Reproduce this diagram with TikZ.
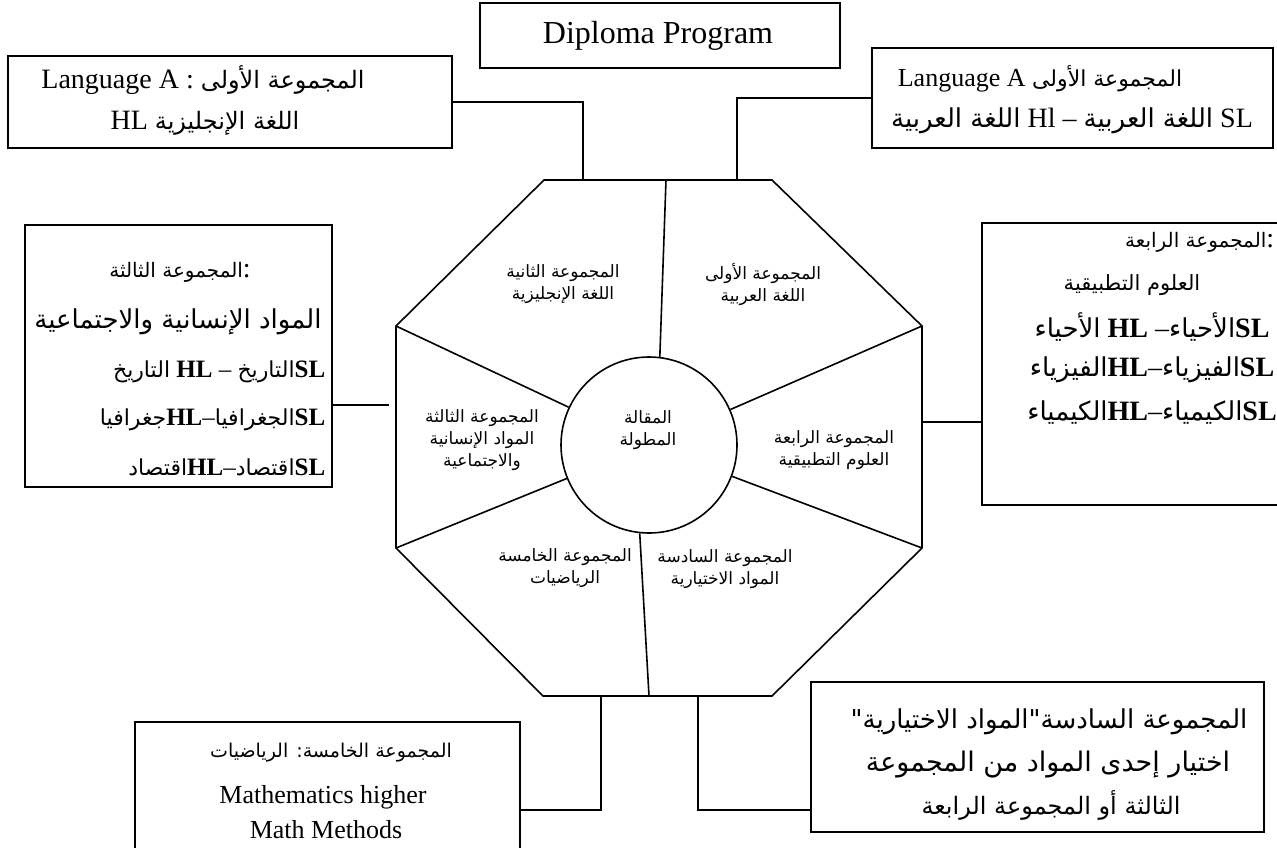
\documentclass[tikz,border=0pt]{standalone}
\usepackage{fontspec}
\setmainfont{Liberation Serif}
\newfontfamily\arfont[Script=Arabic]{DejaVu Sans}
\TeXXeTstate=1
\newcommand\az[1]{\fontsize{#1}{#1}\selectfont\arfont}
\begin{document}
\begin{tikzpicture}[x=1pt,y=-1pt,line width=1.6pt,
  box/.style={draw,rectangle,inner sep=0pt},
  txt/.style={inner sep=0pt,font=\fontsize{28}{30}\selectfont},
  otxt/.style={inner sep=0pt,align=center,font=\fontsize{17}{22}\selectfont\arfont}]
\useasboundingbox (0,0) rectangle (1277,847);
\begin{scope}
\clip (0,0) rectangle (1277,847);
% boxes
\node[box,minimum width=360,minimum height=65] (dp) at (660,35.5) {};
\node[box,minimum width=444,minimum height=92] (tl) at (230,102) {};
\node[box,minimum width=401,minimum height=100] (tr) at (1072.5,98) {};
\node[box,minimum width=307,minimum height=262] (lb) at (178.5,356) {};
\node[box,minimum width=340,minimum height=282] (rb) at (1152,364) {};
\node[box,minimum width=385,minimum height=176] (bl) at (327.5,810) {};
\node[box,minimum width=453,minimum height=150] (br) at (1037.5,757) {};
% octagon
\coordinate (o1) at (544,180);
\coordinate (o2) at (772,180);
\coordinate (o3) at (922,326);
\coordinate (o4) at (922,548);
\coordinate (o5) at (772,696);
\coordinate (o6) at (543,696);
\coordinate (o7) at (396,548);
\coordinate (o8) at (396,326);
\draw (o1) -- (o2) -- (o3) -- (o4) -- (o5) -- (o6) -- (o7) -- (o8) -- cycle;
\node[draw,circle,minimum size=176,inner sep=0pt] (c) at (649,445) {};
\coordinate (ts) at (666,180);
\coordinate (bs) at (649,696);
\draw (ts) -- (c.83);
\draw (bs) -- (c.264);
\draw (o8) -- (c);
\draw (o3) -- (c);
\draw (o7) -- (c);
\draw (o4) -- (c);
% connectors
\coordinate (tlc) at (583,180);
\coordinate (trc) at (737,180);
\draw (tl.east) -| (tlc);
\draw (tr.west) -| (trc);
\coordinate (lg) at (389,405);
\draw (lb.east |- lg) -- (lg);
\coordinate (rg) at (922,422);
\draw (rg) -- (rg -| rb.west);
\coordinate (blc) at (601,696);
\draw (bl.east) -| (blc);
\coordinate (brc) at (698,696);
\coordinate (brk) at (698,810);
\draw (brc) -- (brk) -- (brk -| br.west);
% texts
\node[inner sep=0pt,font=\fontsize{32}{34}\selectfont] (dpt) at (658,36) {Diploma Program};
\node[txt] (tl1) at (203,80) {Language A : {\az{24}\beginR المجموعة الأولى\endR}};
\node[txt] (tl2) at (205,123) {HL {\az{24}\beginR اللغة الإنجليزية\endR}};
\node[inner sep=0pt,font=\fontsize{26}{28}\selectfont] (tr1) at (1040,79) {Language A {\az{22}\beginR المجموعة الأولى\endR}};
\node[txt] (tr2) at (1072,121) {{\az{26}\beginR اللغة العربية\endR} Hl -- {\az{26}\beginR اللغة العربية\endR} SL};
\node[txt] (lb1) at (180,272) {{\az{20}\beginR المجموعة الثالثة\endR}:};
\node[txt] (lb2) at (178,322) {{\az{26}\beginR المواد الإنسانية والاجتماعية\endR}};
\node[inner sep=0pt,font=\fontsize{25}{27}\selectfont,anchor=east] (lb3) at (326,372) {{\az{22}\beginR التاريخ\endR} \textbf{HL} -- {\az{22}\beginR التاريخ\endR}\textbf{SL}};
\node[inner sep=0pt,font=\fontsize{25}{27}\selectfont,anchor=east] (lb4) at (326,420) {{\az{22}\beginR جغرافيا\endR}\textbf{HL}--{\az{22}\beginR الجغرافيا\endR}\textbf{SL}};
\node[inner sep=0pt,font=\fontsize{25}{27}\selectfont,anchor=east] (lb5) at (326,467) {{\az{22}\beginR اقتصاد\endR}\textbf{HL}--{\az{22}\beginR اقتصاد\endR}\textbf{SL}};
\node[txt,anchor=east] (rb1) at (1275,242) {{\az{20}\beginR المجموعة الرابعة\endR}:};
\node[txt] (rb2) at (1132,285) {{\az{21}\beginR العلوم التطبيقية\endR}};
\node[txt] (rb3) at (1152,327) {{\az{26}\beginR الأحياء\endR} \textbf{HL} --{\az{26}\beginR الأحياء\endR}\textbf{SL}};
\node[txt] (rb4) at (1152,370) {{\az{26}\beginR الفيزياء\endR}\textbf{HL}--{\az{26}\beginR الفيزياء\endR}\textbf{SL}};
\node[txt] (rb5) at (1152,413) {{\az{26}\beginR الكيمياء\endR}\textbf{HL}--{\az{26}\beginR الكيمياء\endR}\textbf{SL}};
\node[txt] (bl1) at (331,753) {{\az{19}\beginR المجموعة الخامسة: الرياضيات\endR}};
\node[inner sep=0pt,font=\fontsize{26}{28}\selectfont] (bl2) at (323,797) {Mathematics higher};
\node[inner sep=0pt,font=\fontsize{26}{28}\selectfont] (bl3) at (326,830) {Math Methods};
\node[txt] (br1) at (1049,722) {{\az{26}\beginR المجموعة السادسة"المواد الاختيارية"\endR}};
\node[txt] (br2) at (1048,765) {{\az{27}\beginR اختيار إحدى المواد من المجموعة\endR}};
\node[txt] (br3) at (1051,805) {{\az{24}\beginR الثالثة أو المجموعة الرابعة\endR}};
% octagon labels
\node[otxt] (s1) at (763,284) {\beginR المجموعة الأولى\endR\\\beginR اللغة العربية\endR};
\node[otxt] (s2) at (563,284) {\beginR المجموعة الثانية\endR\\\beginR اللغة الإنجليزية\endR};
\node[otxt] (s3) at (482,440) {\beginR المجموعة الثالثة\endR\\\beginR المواد الإنسانية\endR\\\beginR والاجتماعية\endR};
\node[otxt] (s4) at (834,450) {\beginR المجموعة الرابعة\endR\\\beginR العلوم التطبيقية\endR};
\node[otxt] (s5) at (565,568) {\beginR المجموعة الخامسة\endR\\\beginR الرياضيات\endR};
\node[otxt] (s6) at (725,569) {\beginR المجموعة السادسة\endR\\\beginR المواد الاختيارية\endR};
\node[otxt] (cc) at (648,430) {\beginR المقالة\endR\\\beginR المطولة\endR};
\end{scope}
\end{tikzpicture}
\end{document}
